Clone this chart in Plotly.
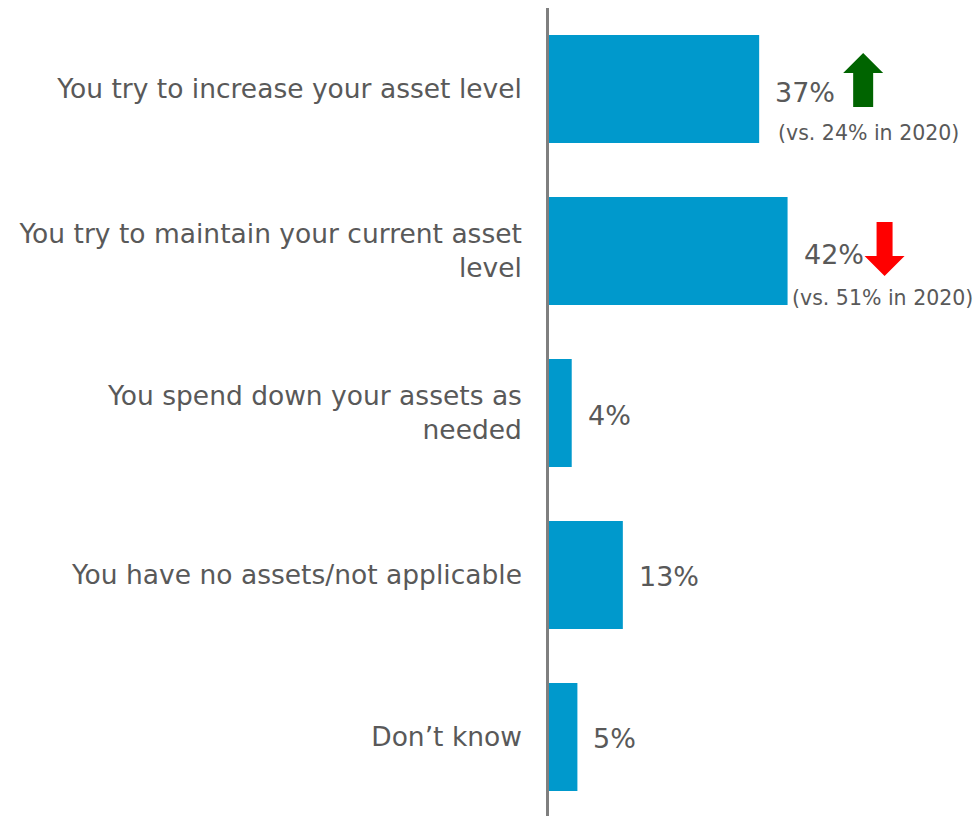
import plotly.graph_objects as go

# Survey responses: approach to assets
categories = [
    "You try to increase your asset level",
    "You try to maintain your current asset<br>level",
    "You spend down your assets as<br>needed",
    "You have no assets/not applicable",
    "Don\u2019t know",
]
shares = [37, 42, 4, 13, 5]
prior_2020 = {0: 24, 1: 51}

BAR_COLOR = "#0099CC"
TEXT_COLOR = "#595959"
FONT = "DejaVu Sans"

positions = list(range(len(categories)))

fig = go.Figure()
fig.add_trace(go.Bar(
    x=shares,
    y=positions,
    orientation="h",
    marker=dict(color=BAR_COLOR, line=dict(width=0)),
    width=0.667,
    hoverinfo="skip",
))

annotations = []
for i, v in enumerate(shares):
    annotations.append(dict(
        x=v, y=i, xref="x", yref="y", text=f"{v}%",
        showarrow=False, xanchor="left", yanchor="middle",
        xshift=14, yshift=-3 if i in prior_2020 else -2,
        font=dict(family=FONT, size=27, color=TEXT_COLOR),
    ))

# comparison with 2020 under the first two values
sub_shift = {0: 17, 1: 2}
sub_y = {0: -44, 1: -47}
for i, prev in prior_2020.items():
    annotations.append(dict(
        x=shares[i], y=i, xref="x", yref="y", text=f"(vs. {prev}% in 2020)",
        showarrow=False, xanchor="left", yanchor="middle",
        xshift=sub_shift[i], yshift=sub_y[i],
        font=dict(family=FONT, size=20.5, color=TEXT_COLOR),
    ))

# block arrows showing direction of change vs 2020
up_path = "M 94,-18 L 114,-18 L 114,16 L 124,16 L 104,36 L 84,16 L 94,16 Z"
down_path = "M 89,29 L 105,29 L 105,-5 L 117,-5 L 97,-25 L 77,-5 L 89,-5 Z"
shapes = [
    dict(type="path", xref="x", yref="y", xsizemode="pixel", ysizemode="pixel",
         xanchor=shares[0], yanchor=0, path=up_path,
         fillcolor="#006400", line=dict(width=0)),
    dict(type="path", xref="x", yref="y", xsizemode="pixel", ysizemode="pixel",
         xanchor=shares[1], yanchor=1, path=down_path,
         fillcolor="#FF0000", line=dict(width=0)),
]

fig.update_layout(
    width=977, height=816,
    margin=dict(l=549, r=0, t=8, b=0),
    paper_bgcolor="white", plot_bgcolor="white",
    showlegend=False,
    annotations=annotations,
    shapes=shapes,
    bargap=0.333,
    xaxis=dict(range=[0, 75.35], showgrid=False, zeroline=False,
               showticklabels=False, showline=False, fixedrange=True),
    yaxis=dict(
        range=[4.4877, -0.5],
        tickmode="array", tickvals=positions, ticktext=categories,
        tickfont=dict(family=FONT, size=26.5, color=TEXT_COLOR),
        ticks="", ticklabelstandoff=19,
        showgrid=False, zeroline=False,
        showline=True, linecolor="#7F7F7F", linewidth=2.5,
        fixedrange=True,
    ),
)

fig.write_html("out.html")
